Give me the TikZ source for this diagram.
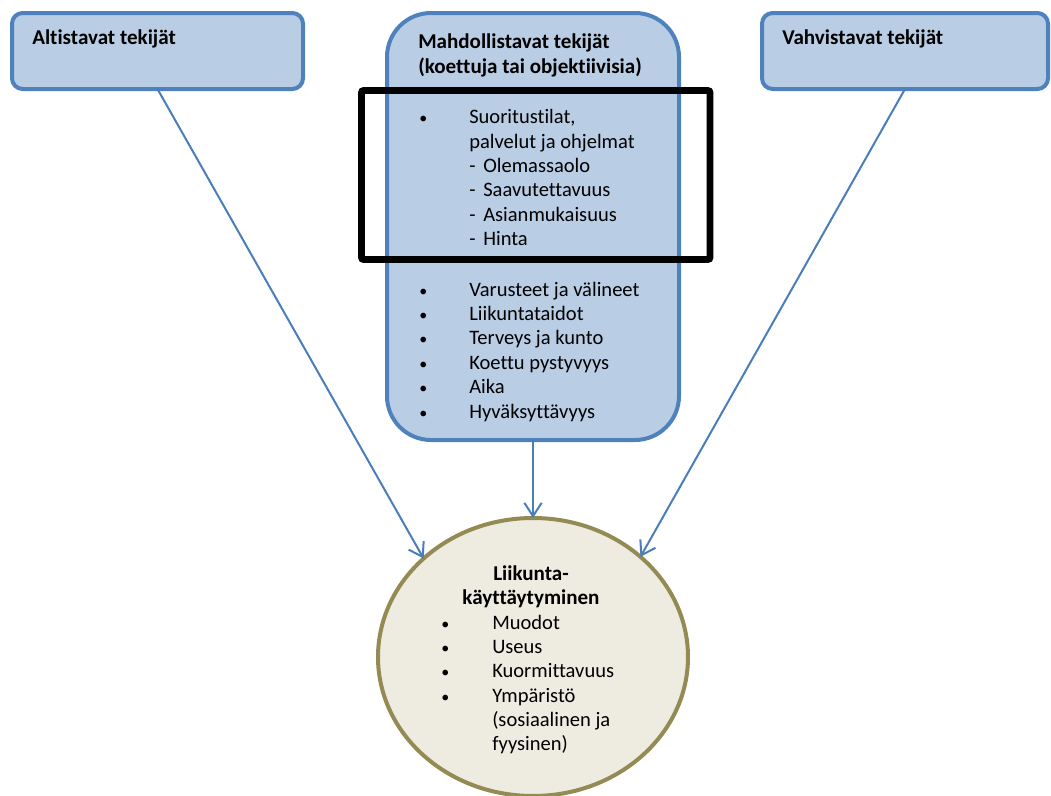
\documentclass[tikz,border=0pt]{standalone}
\usepackage{fontspec}
\setmainfont{Carlito}[Ligatures=NoCommon]
\usetikzlibrary{arrows.meta,shapes.geometric}
\definecolor{boxfill}{HTML}{B9CDE5}
\definecolor{boxline}{HTML}{4F81BD}
\definecolor{arrowc}{HTML}{4A7EBB}
\definecolor{ellfill}{HTML}{EEECE1}
\definecolor{ellline}{HTML}{948A54}
\begin{document}
\begin{tikzpicture}[x=0.75pt,y=-0.75pt,
  sbox/.style={draw=boxline,fill=boxfill,line width=3pt,rounded corners=8pt,inner sep=0pt,outer sep=0pt},
  txt/.style={anchor=base west,inner sep=0pt,font=\fontsize{15.4}{18.3}\selectfont},
  bul/.style={anchor=base west,inner sep=0pt,font=\fontsize{12}{18.3}\selectfont},
  btxt/.style={anchor=base west,inner sep=0pt,font=\fontsize{15.8}{18.3}\selectfont\bfseries},
  conn/.style={draw=arrowc,line width=1.5pt,-{Straight Barb[length=10pt,width=13pt]}}]
\useasboundingbox (0,0) rectangle (1051,796);
% boxes
\node[sbox,minimum width=218.25pt,minimum height=57pt] (lbox) at (157.5,51) {};
\node[sbox,minimum width=214.5pt,minimum height=57pt] (rbox) at (905,51) {};
\node[sbox,rounded corners=33pt,minimum width=219pt,minimum height=320.25pt] (cbox) at (533,226.5) {};
% highlight frame
\draw[black,line width=5pt,rounded corners=1.5pt] (361.5,90.5) rectangle (710,259.5);
% ellipse
\node[ellipse,draw=ellline,fill=ellfill,line width=3pt,inner sep=0pt,outer sep=0pt,minimum width=232.5pt,minimum height=208.5pt] (circ) at (533,657) {};
% connectors
\draw[conn] (lbox.south) -- (circ.138);
\draw[conn] (cbox.south) -- (circ.north);
\draw[conn] (rbox.south) -- (circ.43);
% titles
\node[btxt] (lt) at (32,45) {Altistavat tekijät};
\node[btxt] (rt) at (782,45) {Vahvistavat tekijät};
\node[btxt] (ct1) at (418,48) {Mahdollistavat tekijät};
\node[btxt] (ct2) at (418,73) {(koettuja tai objektiivisia)};
% first list
\node[bul] (b0) at (419,123) {•};
\node[txt] (s1) at (469,123) {Suoritustilat,};
\node[txt] (s2) at (469,148) {palvelut ja ohjelmat};
\foreach \t [count=\i] in {Olemassaolo,Saavutettavuus,Asianmukaisuus,Hinta}{
  \node[txt] (d\i) at (469,148+24.4*\i) {-};
  \node[txt] (e\i) at (483,148+24.4*\i) {\t};
}
% second list
\foreach \t [count=\i from 0] in {Varusteet ja välineet,Liikuntataidot,Terveys ja kunto,Koettu pystyvyys,Aika,Hyväksyttävyys}{
  \node[bul] (bb\i) at (419,296+24.4*\i) {•};
  \node[txt] (v\i) at (469,296+24.4*\i) {\t};
}
% ellipse text
\node[anchor=base,inner sep=0pt,font=\fontsize{15.8}{18.3}\selectfont\bfseries] (h1) at (531,580) {Liikunta-};
\node[anchor=base,inner sep=0pt,font=\fontsize{15.8}{18.3}\selectfont\bfseries] (h2) at (531,604) {käyttäytyminen};
\foreach \t [count=\i from 0] in {Muodot,Useus,Kuormittavuus,Ympäristö}{
  \node[bul] (cb\i) at (441,629+24.4*\i) {•};
  \node[txt] (m\i) at (492,629+24.4*\i) {\t};
}
\node[txt] (m4) at (492,726) {(sosiaalinen ja};
\node[txt] (m5) at (492,750) {fyysinen)};
\end{tikzpicture}
\end{document}
